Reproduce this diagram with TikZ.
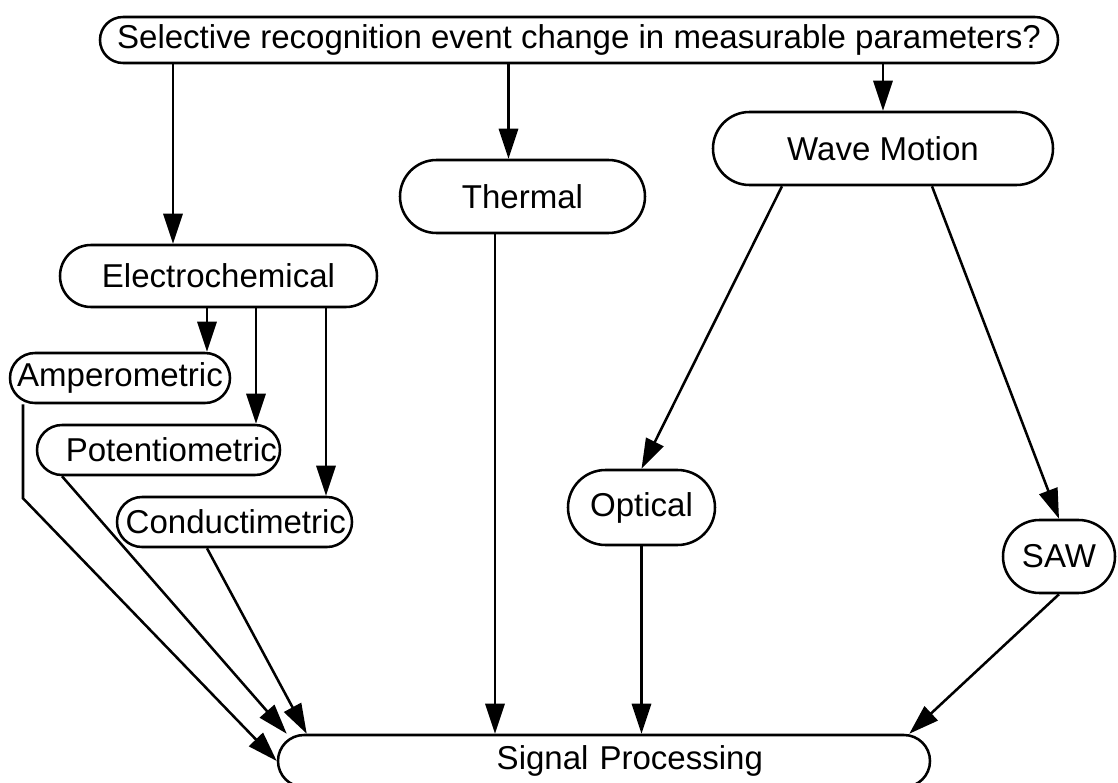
\documentclass[tikz,border=0pt]{standalone}
\usepackage{fontspec}
\setmainfont{Liberation Sans}
\usepackage{tikz}
\usetikzlibrary{
    arrows.meta
}
\tikzset{
    pill/.style={
        rectangle,
        rounded corners=#1,
        draw=black,
        line width=1.8pt,
        align=center,
        inner sep=0pt,
        minimum height=2*#1,
        font=\fontsize{23.5}{27}\selectfont
    },
    arrow/.style={
        -{Triangle[length=7.5mm, width=4.8mm]},
        line width=1.8pt
    }
}

\begin{document}
\begin{tikzpicture}[x=0.25mm, y=-0.25mm]
\useasboundingbox (0,0) rectangle (1118,783);

\node[pill=5.75mm, minimum width=239.5mm] (event) at (579,40) {Selective recognition event change in measurable parameters?};
\node[pill=9.125mm, minimum width=85mm] (wave) at (883,148.5) {Wave Motion};
\node[pill=9.125mm, minimum width=61.25mm] (thermal) at (522.5,196.5) {Thermal};
\node[pill=7.75mm, minimum width=79.25mm] (electro) at (218.5,276) {Electrochemical};

\node[pill=6.25mm, minimum width=55mm] (ampero) at (120,378) {Amperometric};
\node[pill=6.25mm, text width=59.25mm, inner xsep=0.75mm, align=right] (potentio) at (158.5,450) {Potentiometric};
\node[pill=6.25mm, text width=55.75mm, inner xsep=1.5mm, align=right] (conduct) at (234.5,522) {Conductimetric};

\node[pill=9.375mm, minimum width=36.75mm] (optical) at (641.5,507.5) {Optical};
\node[pill=9.125mm, minimum width=28mm] (saw) at (1059,556.5) {SAW};

\node[pill=6.5mm, text width=79.5mm, inner xsep=41.75mm, align=right] (signal) at (604,761) {Signal Processing};

% from the question
\draw[arrow] ([xshift=-11.375mm]electro.north |- event.south) -- ([xshift=-11.375mm]electro.north);
\draw[arrow] ([xshift=-3.5mm]thermal.north |- event.south) -- ([xshift=-3.5mm]thermal.north);
\draw[arrow] (wave.north |- event.south) -- (wave.north);

% electrochemical branches
\draw[arrow] ([xshift=21.75mm]ampero.north |- electro.south) -- ([xshift=21.75mm]ampero.north);
\draw[arrow] ([xshift=24.375mm]potentio.north |- electro.south) -- ([xshift=24.375mm]potentio.north);
\draw[arrow] ([xshift=22.875mm]conduct.north |- electro.south) -- ([xshift=22.875mm]conduct.north);

% wave motion branches
\draw[arrow] ([xshift=-25.25mm]wave.south) -- (optical.north);
\draw[arrow] ([xshift=12.25mm]wave.south) -- (saw.north);

% into signal processing
\draw[arrow] ([xshift=-24.25mm]ampero.south) -- ++(0,94) -- (signal.west);
\draw[arrow] ([xshift=-24.125mm]potentio.south) -- ([xshift=2.5mm]signal.north west);
\draw[arrow] ([xshift=-6.875mm]conduct.south) -- ([xshift=7.5mm]signal.north west);
\draw[arrow] ([xshift=-6.875mm]thermal.south) -- ([xshift=-6.875mm]thermal.south |- signal.north);
\draw[arrow] (optical.south) -- (optical.south |- signal.north);
\draw[arrow] (saw.south) -- ([xshift=-5.5mm]signal.north east);

\end{tikzpicture}
\end{document}
